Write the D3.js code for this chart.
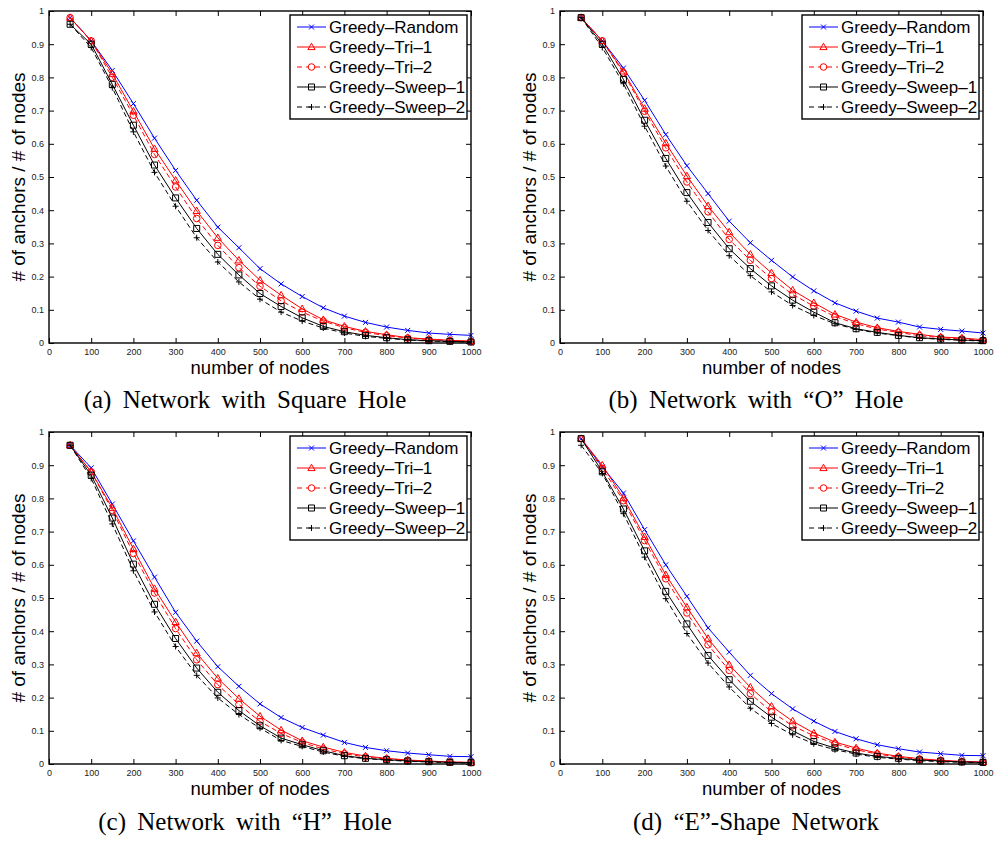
<!DOCTYPE html>
<html>
<head>
<meta charset="utf-8">
<script src="https://cdn.jsdelivr.net/npm/d3@7"></script>
<style>
  body { margin: 0; background: #fff; }
  svg { display: block; }
</style>
</head>
<body>
<div id="chart"></div>
<script>

var nodes = [50, 100, 150, 200, 250, 300, 350, 400, 450, 500, 550, 600, 650, 700, 750, 800, 850, 900, 950, 1000];
var seriesNames = ["Greedy\u2013Random", "Greedy\u2013Tri\u20131", "Greedy\u2013Tri\u20132", "Greedy\u2013Sweep\u20131", "Greedy\u2013Sweep\u20132"];
var xTicks = [0, 100, 200, 300, 400, 500, 600, 700, 800, 900, 1000];
var yTicks = [0, 0.1, 0.2, 0.3, 0.4, 0.5, 0.6, 0.7, 0.8, 0.9, 1];
var captions = ["(a) Network with Square Hole", "(b) Network with \u201CO\u201D Hole", "(c) Network with \u201CH\u201D Hole", "(d) \u201CE\u201D-Shape Network"];

// (a) square hole
var squareRandom = [0.98, 0.91, 0.821, 0.721, 0.617, 0.52, 0.43, 0.349, 0.287, 0.224, 0.178, 0.14, 0.106, 0.081, 0.062, 0.048, 0.038, 0.030, 0.026, 0.023];
var squareTri1   = [0.98, 0.91, 0.811, 0.698, 0.585, 0.49, 0.398, 0.317, 0.249, 0.189, 0.144, 0.103, 0.07, 0.05, 0.035, 0.025, 0.016, 0.012, 0.008, 0.006];
var squareTri2   = [0.98, 0.91, 0.80, 0.686, 0.568, 0.47, 0.375, 0.294, 0.227, 0.171, 0.127, 0.093, 0.066, 0.046, 0.032, 0.022, 0.015, 0.010, 0.007, 0.004];
var squareSweep1 = [0.96, 0.90, 0.779, 0.656, 0.536, 0.437, 0.345, 0.267, 0.205, 0.149, 0.11, 0.076, 0.05, 0.034, 0.023, 0.016, 0.010, 0.007, 0.005, 0.003];
var squareSweep2 = [0.96, 0.89, 0.769, 0.636, 0.514, 0.412, 0.317, 0.244, 0.184, 0.132, 0.093, 0.066, 0.045, 0.030, 0.020, 0.014, 0.009, 0.006, 0.004, 0.003];

// (b) "O" hole
var oRandom = [0.98, 0.91, 0.828, 0.731, 0.628, 0.534, 0.45, 0.367, 0.302, 0.249, 0.199, 0.157, 0.121, 0.096, 0.075, 0.063, 0.048, 0.041, 0.036, 0.030];
var oTri1   = [0.98, 0.91, 0.818, 0.706, 0.602, 0.503, 0.413, 0.334, 0.267, 0.211, 0.159, 0.121, 0.086, 0.063, 0.046, 0.035, 0.026, 0.018, 0.015, 0.010];
var oTri2   = [0.98, 0.91, 0.813, 0.698, 0.588, 0.485, 0.395, 0.312, 0.249, 0.194, 0.146, 0.111, 0.08, 0.058, 0.042, 0.032, 0.022, 0.016, 0.012, 0.008];
var oSweep1 = [0.98, 0.90, 0.794, 0.671, 0.556, 0.453, 0.363, 0.284, 0.224, 0.172, 0.129, 0.093, 0.061, 0.043, 0.032, 0.023, 0.016, 0.012, 0.009, 0.007];
var oSweep2 = [0.98, 0.89, 0.781, 0.653, 0.533, 0.427, 0.339, 0.263, 0.203, 0.154, 0.113, 0.083, 0.058, 0.041, 0.030, 0.022, 0.015, 0.011, 0.008, 0.006];

// (c) "H" hole
var hRandom = [0.96, 0.892, 0.783, 0.672, 0.563, 0.457, 0.37, 0.293, 0.234, 0.181, 0.14, 0.11, 0.087, 0.065, 0.05, 0.04, 0.033, 0.028, 0.023, 0.022];
var hTri1   = [0.96, 0.88, 0.771, 0.648, 0.528, 0.428, 0.334, 0.258, 0.197, 0.144, 0.102, 0.07, 0.051, 0.035, 0.024, 0.017, 0.012, 0.009, 0.006, 0.005];
var hTri2   = [0.96, 0.88, 0.764, 0.634, 0.515, 0.408, 0.314, 0.239, 0.179, 0.128, 0.092, 0.065, 0.045, 0.031, 0.021, 0.015, 0.011, 0.008, 0.006, 0.004];
var hSweep1 = [0.96, 0.87, 0.741, 0.602, 0.481, 0.378, 0.289, 0.216, 0.161, 0.115, 0.078, 0.058, 0.04, 0.025, 0.017, 0.013, 0.009, 0.007, 0.005, 0.004];
var hSweep2 = [0.96, 0.86, 0.723, 0.582, 0.458, 0.354, 0.267, 0.199, 0.149, 0.108, 0.071, 0.053, 0.036, 0.023, 0.016, 0.012, 0.008, 0.006, 0.004, 0.003];

// (d) "E"-shape
var eRandom = [0.98, 0.895, 0.816, 0.706, 0.60, 0.505, 0.41, 0.337, 0.267, 0.212, 0.166, 0.129, 0.098, 0.076, 0.058, 0.046, 0.036, 0.031, 0.026, 0.025];
var eTri1   = [0.98, 0.90, 0.801, 0.684, 0.57, 0.472, 0.378, 0.299, 0.231, 0.174, 0.129, 0.093, 0.066, 0.048, 0.033, 0.023, 0.016, 0.011, 0.008, 0.006];
var eTri2   = [0.98, 0.89, 0.793, 0.673, 0.558, 0.455, 0.359, 0.282, 0.212, 0.157, 0.115, 0.085, 0.061, 0.043, 0.030, 0.021, 0.014, 0.010, 0.007, 0.005];
var eSweep1 = [0.98, 0.88, 0.768, 0.642, 0.52, 0.422, 0.327, 0.254, 0.189, 0.141, 0.10, 0.068, 0.048, 0.033, 0.023, 0.017, 0.012, 0.009, 0.006, 0.005];
var eSweep2 = [0.96, 0.875, 0.754, 0.623, 0.498, 0.393, 0.304, 0.232, 0.168, 0.122, 0.088, 0.061, 0.043, 0.030, 0.020, 0.015, 0.010, 0.007, 0.005, 0.004];

var styles = [
  { color: "#0000ff", dash: null,  marker: "x" },
  { color: "#ff0000", dash: null,  marker: "tri" },
  { color: "#ff0000", dash: "5,3", marker: "circle" },
  { color: "#000000", dash: null,  marker: "square" },
  { color: "#000000", dash: "5,3", marker: "plus" }
];

var panels = [
  { left: 49,  top: 11,  width: 422, data: [squareRandom, squareTri1, squareTri2, squareSweep1, squareSweep2], capX: 245, capY: 408 },
  { left: 560, top: 11,  width: 423, data: [oRandom, oTri1, oTri2, oSweep1, oSweep2], capX: 756, capY: 408 },
  { left: 49,  top: 432, width: 422, data: [hRandom, hTri1, hTri2, hSweep1, hSweep2], capX: 245, capY: 830 },
  { left: 560, top: 432, width: 423, data: [eRandom, eTri1, eTri2, eSweep1, eSweep2], capX: 756, capY: 830 }
];

var plotH = 332;

var svg = d3.select("#chart")
  .append("svg")
  .attr("width", 995)
  .attr("height", 842)
  .style("font-family", "'Liberation Sans', Arial, sans-serif");

// marker shapes, centred on 0,0
function markerPath(type) {
  if (type == "x") return "M-2.5,-2.5L2.5,2.5M-2.5,2.5L2.5,-2.5";
  if (type == "plus") return "M-3,0L3,0M0,-3L0,3";
  if (type == "square") return "M-3,-3H3V3H-3Z";
  if (type == "tri") return "M0,-3.8L3.6,2.6H-3.6Z";
  if (type == "circle") return "M3.3,0A3.3,3.3 0 1,1 -3.3,0A3.3,3.3 0 1,1 3.3,0Z";
}

panels.forEach(function(p, pi) {
  var x = d3.scaleLinear().domain([0, 1000]).range([p.left, p.left + p.width]);
  var y = d3.scaleLinear().domain([0, 1]).range([p.top + plotH, p.top]);
  var g = svg.append("g");

  g.append("rect")
    .attr("x", p.left).attr("y", p.top)
    .attr("width", p.width).attr("height", plotH)
    .attr("fill", "#fff");

  // ticks point inward on all four sides, labels only bottom/left
  var bottom = g.append("g")
    .attr("transform", "translate(0," + y(0) + ")")
    .call(d3.axisBottom(x).tickValues(xTicks).tickSizeInner(-5).tickSizeOuter(0).tickPadding(6).tickFormat(function(d) { return String(d); }));
  var left = g.append("g")
    .attr("transform", "translate(" + x(0) + ",0)")
    .call(d3.axisLeft(y).tickValues(yTicks).tickSizeInner(-5).tickSizeOuter(0).tickPadding(5).tickFormat(d3.format("~g")));
  var top = g.append("g")
    .attr("transform", "translate(0," + y(1) + ")")
    .call(d3.axisTop(x).tickValues(xTicks).tickSizeInner(-5).tickSizeOuter(0).tickFormat(""));
  var right = g.append("g")
    .attr("transform", "translate(" + x(1000) + ",0)")
    .call(d3.axisRight(y).tickValues(yTicks).tickSizeInner(-5).tickSizeOuter(0).tickFormat(""));

  [bottom, left, top, right].forEach(function(a) {
    a.select(".domain").remove();
    a.selectAll("line").attr("stroke", "#000");
    a.selectAll("text").attr("fill", "#222").style("font-size", "9px").style("font-family", "'Liberation Sans', Arial, sans-serif");
  });

  // series lines and markers
  p.data.forEach(function(vals, si) {
    var st = styles[si];
    var line = d3.line()
      .x(function(d, i) { return x(nodes[i]); })
      .y(function(d) { return y(d); });
    g.append("path")
      .datum(vals)
      .attr("d", line)
      .attr("fill", "none")
      .attr("stroke", st.color)
      .attr("stroke-width", 1)
      .attr("stroke-dasharray", st.dash);
    g.selectAll(".m" + si)
      .data(vals)
      .enter().append("path")
      .attr("class", "m" + si)
      .attr("transform", function(d, i) { return "translate(" + x(nodes[i]) + "," + y(d) + ")"; })
      .attr("d", markerPath(st.marker))
      .attr("fill", "none")
      .attr("stroke", st.color)
      .attr("stroke-width", 1);
  });

  // box
  g.append("rect")
    .attr("x", p.left).attr("y", p.top)
    .attr("width", p.width).attr("height", plotH)
    .attr("fill", "none")
    .attr("stroke", "#000")
    .attr("stroke-width", 1.4);

  // legend
  var lx = p.left + p.width - 4 - 177;
  var ly = p.top + 4;
  var lg = g.append("g");
  lg.append("rect")
    .attr("x", lx).attr("y", ly)
    .attr("width", 177).attr("height", 104)
    .attr("fill", "#fff")
    .attr("stroke", "#000")
    .attr("stroke-width", 1.4);
  seriesNames.forEach(function(name, si) {
    var st = styles[si];
    var ry = ly + 12 + si * 20;
    lg.append("line")
      .attr("x1", lx + 7).attr("x2", lx + 36)
      .attr("y1", ry).attr("y2", ry)
      .attr("stroke", st.color)
      .attr("stroke-width", 1)
      .attr("stroke-dasharray", st.dash ? "5,4" : null);
    lg.append("path")
      .attr("transform", "translate(" + (lx + 21.5) + "," + ry + ")")
      .attr("d", markerPath(st.marker))
      .attr("fill", st.dash ? "#fff" : "none")
      .attr("stroke", st.color);
    lg.append("text")
      .attr("x", lx + 39).attr("y", ry)
      .attr("dy", "0.36em")
      .style("font-size", "17px")
      .text(name);
  });

  // axis titles
  g.append("text")
    .attr("x", (x(0) + x(1000)) / 2)
    .attr("y", p.top + plotH + 30.5)
    .attr("text-anchor", "middle")
    .style("font-size", "18.5px")
    .text("number of nodes");
  g.append("text")
    .attr("transform", "translate(" + (p.left - 24) + "," + (p.top + plotH / 2) + ") rotate(-90)")
    .attr("text-anchor", "middle")
    .style("font-size", "19px")
    .text("# of anchors / # of nodes");

  // caption
  g.append("text")
    .attr("x", p.capX)
    .attr("y", p.capY)
    .attr("text-anchor", "middle")
    .style("font-family", "'Liberation Serif', 'Times New Roman', serif")
    .style("font-size", "25px")
    .style("word-spacing", "5px")
    .text(captions[pi]);
});
</script>
</body>
</html>
